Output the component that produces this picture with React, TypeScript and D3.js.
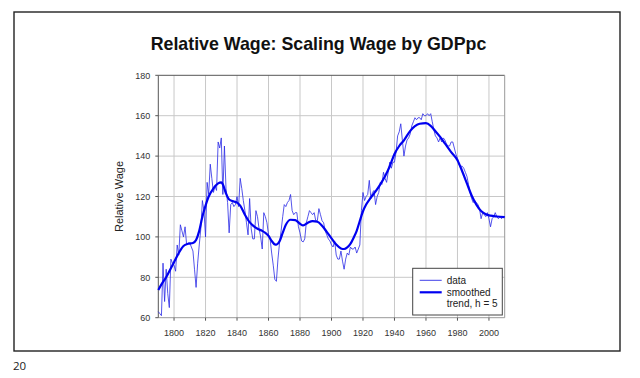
import React from "react";
import * as d3 from "d3";

const dataStartYear = 1790;
const dataValues: number[] = [
  // 1790-1799
  63, 62, 61, 87, 68, 84, 72, 65, 89, 87,
  // 1800-1809
  86, 83, 96, 91, 106, 103, 100, 105, 96, 97,
  // 1810-1819
  97, 95, 93, 84, 75, 87, 96, 104, 118, 113,
  // 1820-1829
  100, 127, 121, 136, 129, 122, 125, 123, 147, 144,
  // 1830-1839
  149, 121, 145, 124, 117, 102, 116, 117, 115, 116,
  // 1840-1849
  120, 115, 129, 124, 118, 113, 107, 101, 119, 104,
  // 1850-1859
  99, 99, 113, 110, 104, 100, 94, 112, 110, 107,
  // 1860-1869
  101, 99, 92, 86, 79, 78, 89, 97, 103, 110,
  // 1870-1879
  116, 115, 117, 118, 121, 113, 111, 112, 112, 105,
  // 1880-1889
  102, 98, 97.5, 99, 107, 110, 113, 112, 111, 112,
  // 1890-1899
  108, 108, 114, 111, 108, 107, 103, 101, 99, 98,
  // 1900-1909
  96, 95, 98, 91, 89, 89, 93, 88, 84, 89,
  // 1910-1919
  92, 91, 95, 94, 94, 95, 92, 94, 96, 113,
  // 1920-1929
  122, 118, 120, 121, 128, 119, 122, 123, 116, 120,
  // 1930-1939
  122, 127, 126, 132, 129, 127, 132, 137, 134, 137,
  // 1940-1949
  137, 142, 150, 152, 156, 148, 140, 145, 148, 149,
  // 1950-1959
  151, 155, 157, 159, 158, 159, 159, 158, 161, 160,
  // 1960-1969
  160, 161, 160, 161, 157, 153, 150, 149, 147, 149,
  // 1970-1979
  147, 149, 148, 146, 145, 145, 147, 147, 144, 141,
  // 1980-1989
  139, 136, 135, 135, 134, 132, 130, 126, 122, 119,
  // 1990-1999
  117, 118, 117, 116, 114, 109, 112, 111, 110, 112,
  // 2000-2010
  109, 105, 109, 110, 112, 110, 109, 110, 109, 110, 110,
];

const smoothYears: number[] = [
  1790, 1792, 1795, 1798, 1800, 1803, 1806, 1809, 1812, 1814, 1816, 1818, 1820,
  1822, 1825, 1828, 1830, 1831, 1833, 1835, 1838, 1840, 1842, 1845, 1848, 1850,
  1853, 1856, 1858, 1860, 1862, 1864, 1865, 1867, 1869, 1871, 1874, 1877, 1880,
  1882, 1885, 1888, 1891, 1894, 1897, 1900, 1903, 1906, 1908, 1910, 1912, 1914,
  1916, 1918, 1920, 1922, 1925, 1928, 1931, 1934, 1937, 1940, 1943, 1946, 1950,
  1953, 1956, 1960, 1963, 1966, 1969, 1972, 1976, 1980, 1983, 1986, 1989, 1992,
  1995, 1998, 2001, 2005, 2010,
];
const smoothValues: number[] = [
  73.7, 76.5, 80, 84.5, 87.5, 92, 95.5, 96.6, 97, 98.5, 103, 110, 115.5,
  120, 124, 126.5, 127, 126, 121.5, 118.5, 117.5, 117, 115.5, 111, 107.3, 105.7,
  104, 103, 102, 100.5, 98, 96.3, 96.2, 97.8, 102, 106, 108.5, 108.3, 106.5,
  105.7, 107, 107.8, 107.5, 105.5, 102.5, 99.3, 96.2, 94.3, 94, 94.8, 96.5, 99.5,
  103, 108, 112.7, 116, 119.5, 122.5, 126, 130, 135, 141, 145, 147.8, 152.5,
  154.8, 156, 156.3, 155, 152.3, 149.5, 146.3, 142, 138, 132.5, 126.5, 120.5, 116,
  112.8, 111.2, 110.5, 110.1, 109.8,
];

const xTicks: number[] = [1800, 1820, 1840, 1860, 1880, 1900, 1920, 1940, 1960, 1980, 2000];
const yTicks: number[] = [60, 80, 100, 120, 140, 160, 180];

const titleText = "Relative Wage: Scaling Wage by GDPpc";
const yLabel = "Relative Wage";
const legendLabels = ["data", "smoothed", "trend, h = 5"];
const pageNumber = "20";

const W = 640;
const H = 378;
const plot = { left: 158.3, right: 504.7, top: 75.3, bottom: 317.7 };

export default function App() {
  const x = d3.scaleLinear().domain([1790, 2010]).range([plot.left, plot.right]);
  const y = d3.scaleLinear().domain([60, 180]).range([plot.bottom, plot.top]);

  const dataPts: [number, number][] = dataValues.map((v, i) => [dataStartYear + i, v]);
  const smoothPts: [number, number][] = smoothYears.map((yr, i) => [yr, smoothValues[i]]);

  const dataLine = d3
    .line<[number, number]>()
    .x((d) => x(d[0]))
    .y((d) => y(d[1]));
  const smoothLine = d3
    .line<[number, number]>()
    .x((d) => x(d[0]))
    .y((d) => y(d[1]))
    .curve(d3.curveMonotoneX);

  const font = "'Liberation Sans', Arial, sans-serif";
  const lg = { x: 412.7, y: 268.3, w: 89.6, h: 46.7 };

  return (
    <svg
      width={W}
      height={H}
      style={{ position: "absolute", left: 0, top: 0, background: "#fff" }}
    >
      <rect x={0} y={0} width={W} height={H} fill="#fff" />
      <rect x={14} y={12} width={606} height={339} fill="none" stroke="#222" strokeWidth={1.4} />
      <text
        x={318.5}
        y={50}
        textAnchor="middle"
        fontFamily={font}
        fontWeight="bold"
        fontSize={17.8}
        fill="#111"
      >
        {titleText}
      </text>

      {/* gridlines */}
      <g stroke="#c8c8c8" strokeWidth={1}>
        {xTicks.map((t) => (
          <line key={"gx" + t} x1={x(t)} x2={x(t)} y1={plot.top} y2={plot.bottom} />
        ))}
        {yTicks.filter((t) => t !== 60 && t !== 180).map((t) => (
          <line key={"gy" + t} x1={plot.left} x2={plot.right} y1={y(t)} y2={y(t)} />
        ))}
      </g>

      {/* plot border */}
      <line x1={plot.left} x2={plot.right} y1={plot.top} y2={plot.top} stroke="#555" strokeWidth={1} />
      <line x1={plot.right} x2={plot.right} y1={plot.top} y2={plot.bottom} stroke="#999" strokeWidth={1} />
      <line x1={plot.left} x2={plot.right} y1={plot.bottom} y2={plot.bottom} stroke="#999" strokeWidth={1} />
      <line x1={plot.left} x2={plot.left} y1={plot.top} y2={plot.bottom} stroke="#555" strokeWidth={1} />

      {/* ticks */}
      <g stroke="#555" strokeWidth={1}>
        {xTicks.map((t) => (
          <line key={"tx" + t} x1={x(t)} x2={x(t)} y1={plot.bottom} y2={plot.bottom + 3} />
        ))}
        {yTicks.map((t) => (
          <line key={"ty" + t} x1={plot.left - 3} x2={plot.left} y1={y(t)} y2={y(t)} />
        ))}
      </g>

      {/* tick labels */}
      <g fontFamily={font} fontSize={9} fill="#333">
        {xTicks.map((t) => (
          <text key={"lx" + t} x={x(t)} y={plot.bottom + 18.5} textAnchor="middle">
            {t}
          </text>
        ))}
        {yTicks.map((t) => (
          <text key={"ly" + t} x={plot.left - 8} y={y(t) + 3.2} textAnchor="end">
            {t}
          </text>
        ))}
      </g>

      <text
        transform={`translate(122.5, ${(plot.top + plot.bottom) / 2}) rotate(-90)`}
        textAnchor="middle"
        fontFamily={font}
        fontSize={11}
        fill="#222"
      >
        {yLabel}
      </text>

      {/* series */}
      <path d={dataLine(dataPts) || ""} fill="none" stroke="#2a2ae6" strokeWidth={0.8} />
      <path d={smoothLine(smoothPts) || ""} fill="none" stroke="#0000f0" strokeWidth={2.2} />

      {/* legend */}
      <rect x={lg.x} y={lg.y} width={lg.w} height={lg.h} fill="#fff" stroke="#444" strokeWidth={1} />
      <line x1={lg.x + 7} x2={lg.x + 29} y1={lg.y + 12} y2={lg.y + 12} stroke="#2a2ae6" strokeWidth={0.9} />
      <line x1={lg.x + 7} x2={lg.x + 29} y1={lg.y + 24} y2={lg.y + 24} stroke="#0000f0" strokeWidth={2.2} />
      <g fontFamily={font} fontSize={10} fill="#222">
        <text x={lg.x + 34} y={lg.y + 15.5}>{legendLabels[0]}</text>
        <text x={lg.x + 34} y={lg.y + 27.5}>{legendLabels[1]}</text>
        <text x={lg.x + 34} y={lg.y + 39}>{legendLabels[2]}</text>
      </g>

      <text x={13} y={370} fontFamily="'Open Sans', 'Liberation Sans', sans-serif" fontSize={11.5} fill="#222">
        {pageNumber}
      </text>
    </svg>
  );
}
